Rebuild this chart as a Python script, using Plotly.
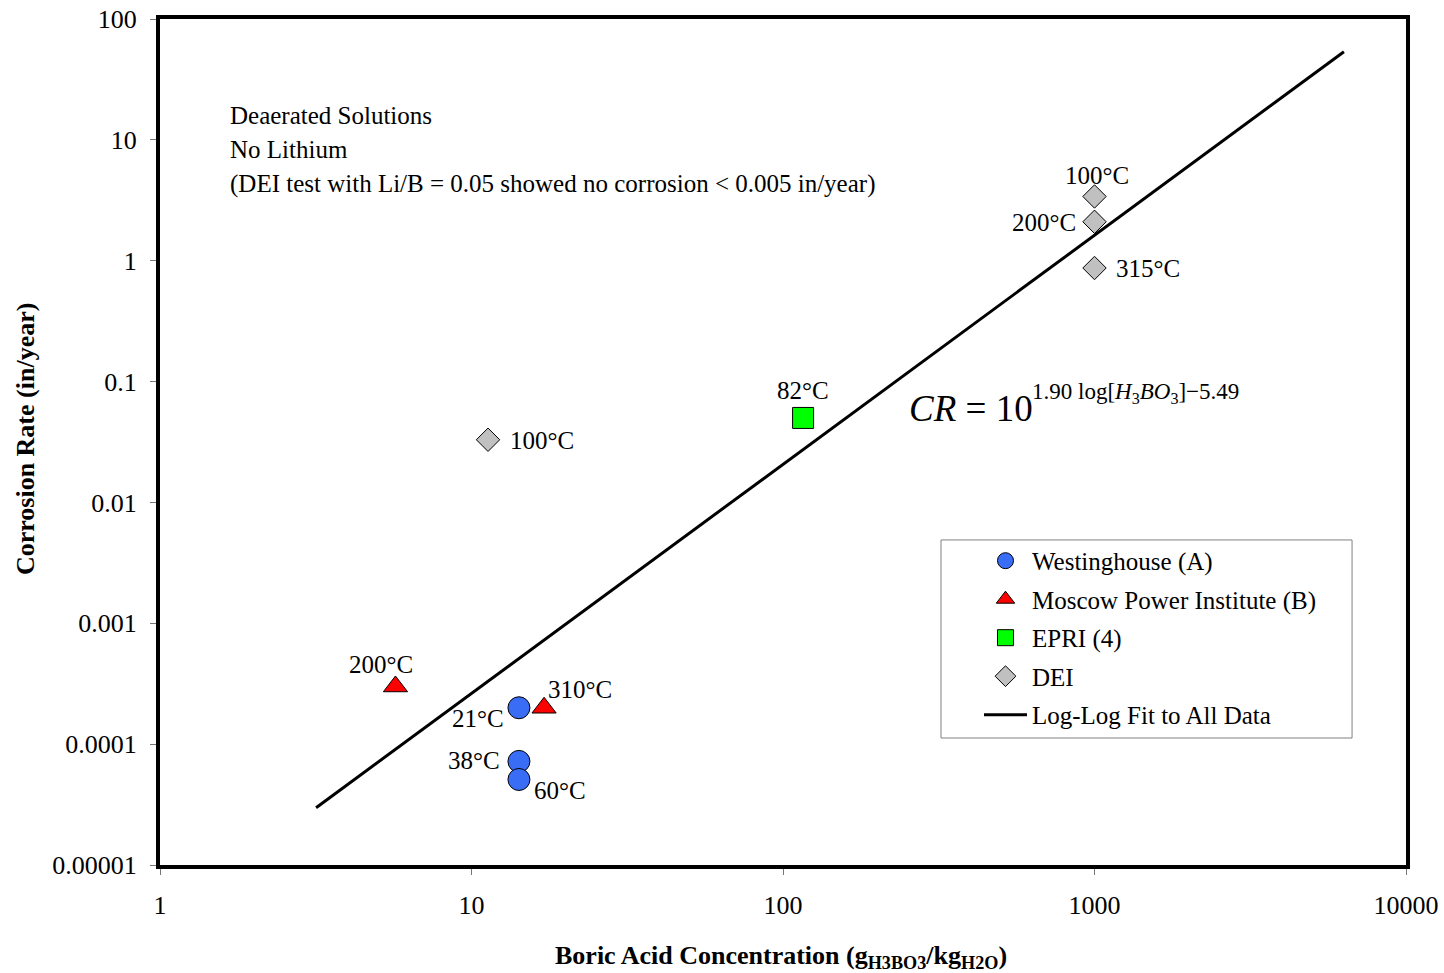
import math
import plotly.graph_objects as go

# ---- data ----
west_x = [14.2, 14.2, 14.2]
west_y = [2.0e-4, 7.2e-5, 5.1e-5]
west_lbl = ["21°C", "38°C", "60°C"]

mos_x = [5.7, 17.1]
mos_y = [3.0e-4, 2.0e-4]
mos_lbl = ["200°C", "310°C"]

epri_x = [116]
epri_y = [0.050]
epri_lbl = ["82°C"]

dei_x = [11.3, 1000, 1000, 1000]
dei_y = [0.033, 3.4, 2.1, 0.87]
dei_lbl = ["100°C", "100°C", "200°C", "315°C"]

fit_x = [3.17, 6320]
fit_y = [2.98e-5, 53.5]

x_ticks = [1, 10, 100, 1000, 10000]
x_tick_text = ["1", "10", "100", "1000", "10000"]
y_ticks = [1e-5, 1e-4, 1e-3, 1e-2, 1e-1, 1, 10, 100]
y_tick_text = ["0.00001", "0.0001", "0.001", "0.01", "0.1", "1", "10", "100"]

FONT = "Liberation Serif, Times New Roman, serif"
FS = 25

fig = go.Figure()

fig.add_trace(go.Scatter(x=west_x, y=west_y, mode="markers", name="Westinghouse (A)",
                         legendgroup="a",
                         marker=dict(symbol="circle", size=22, color="#3A6DF5",
                                     line=dict(color="black", width=1))))
fig.add_trace(go.Scatter(x=mos_x, y=mos_y, mode="markers", name="Moscow Power Institute (B)",
                         legendgroup="b",
                         marker=dict(symbol="triangle-up", size=21, color="#FF0000",
                                     line=dict(color="black", width=1))))
fig.add_trace(go.Scatter(x=epri_x, y=epri_y, mode="markers", name="EPRI (4)",
                         legendgroup="c",
                         marker=dict(symbol="square", size=21, color="#00FF00",
                                     line=dict(color="black", width=1))))
fig.add_trace(go.Scatter(x=dei_x, y=dei_y, mode="markers", name="DEI",
                         legendgroup="d",
                         marker=dict(symbol="diamond", size=18, color="#C0C0C0",
                                     line=dict(color="black", width=1))))
fig.add_trace(go.Scatter(x=fit_x, y=fit_y, mode="lines", name="Log-Log Fit to All Data",
                         legendgroup="e",
                         line=dict(color="black", width=3)))

# point labels: (x, y, text, xanchor, xshift, yshift)
labels = [
    (west_x[0], west_y[0], west_lbl[0], "right", -13, -11),
    (west_x[1], west_y[1], west_lbl[1], "right", -17, 1),
    (west_x[2], west_y[2], west_lbl[2], "left", 13, -11),
    (mos_x[0], mos_y[0], mos_lbl[0], "center", -14, 22),
    (mos_x[1], mos_y[1], mos_lbl[1], "left", 2, 18),
    (epri_x[0], epri_y[0], epri_lbl[0], "center", 0, 27),
    (dei_x[0], dei_y[0], dei_lbl[0], "left", 20, -1),
    (dei_x[1], dei_y[1], dei_lbl[1], "center", 2, 21),
    (dei_x[2], dei_y[2], dei_lbl[2], "right", -17, -1),
    (dei_x[3], dei_y[3], dei_lbl[3], "left", 19, 0),
]
for x, y, t, xa, xs, ys in labels:
    fig.add_annotation(x=math.log10(x), y=math.log10(y), xref="x", yref="y", text=t,
                       showarrow=False, xanchor=xa, yanchor="middle", xshift=xs, yshift=ys,
                       font=dict(family=FONT, size=FS, color="black"))

# note text block
notes = ["Deaerated Solutions", "No Lithium",
         "(DEI test with Li/B = 0.05 showed no corrosion < 0.005 in/year)"]
note_y = [0.8865, 0.8452, 0.805]
for t, yy in zip(notes, note_y):
    fig.add_annotation(x=0.0546, y=yy, xref="paper", yref="paper", text=t, showarrow=False,
                       xanchor="left", yanchor="middle",
                       font=dict(family=FONT, size=FS, color="black"))

# equation
fig.add_annotation(x=0.5996, y=0.540, xref="paper", yref="paper",
                   text="<i>CR</i> = 10", showarrow=False, xanchor="left", yanchor="middle",
                   font=dict(family=FONT, size=37, color="black"))
fig.add_annotation(x=0.6982, y=0.5579, xref="paper", yref="paper",
                   text="1.90 log[<i>H</i><sub>3</sub><i>BO</i><sub>3</sub>]\u22125.49",
                   showarrow=False, xanchor="left", yanchor="middle",
                   font=dict(family=FONT, size=23, color="black"))

# axis titles
fig.add_annotation(x=-0.1083, y=0.5035, xref="paper", yref="paper",
                   text="<b>Corrosion Rate (in/year)</b>", textangle=-90, showarrow=False,
                   xanchor="center", yanchor="middle",
                   font=dict(family=FONT, size=26, color="black"))
fig.add_annotation(x=0.4984, y=-0.1087, xref="paper", yref="paper",
                   text="<b>Boric Acid Concentration (g<sub>H3BO3</sub>/kg<sub>H2O</sub>)</b>",
                   showarrow=False, xanchor="center", yanchor="middle",
                   font=dict(family=FONT, size=26, color="black"))

# legend frame
fig.add_shape(type="rect", xref="paper", yref="paper",
              x0=0.6268, x1=0.9567, y0=0.1501, y1=0.3842,
              line=dict(color="#808080", width=1), fillcolor="white", layer="below")

fig.update_xaxes(type="log", range=[0, 4], tickvals=x_ticks, ticktext=x_tick_text,
                 showgrid=False, zeroline=False, showline=True, linecolor="black",
                 linewidth=4, mirror=True, ticks="outside", ticklen=6, tickcolor="#777",
                 tickwidth=1, ticklabelstandoff=8, automargin=False,
                 tickfont=dict(family=FONT, size=26, color="black"))
fig.update_yaxes(type="log", range=[-5, 2], tickvals=y_ticks, ticktext=y_tick_text,
                 showgrid=False, zeroline=False, showline=True, linecolor="black",
                 linewidth=4, mirror=True, ticks="outside", ticklen=6, tickcolor="#777",
                 tickwidth=1, ticklabelstandoff=8, automargin=False,
                 tickfont=dict(family=FONT, size=26, color="black"))

fig.update_layout(
    width=1444, height=973,
    margin=dict(l=160, r=38, t=19, b=108, autoexpand=False),
    paper_bgcolor="white", plot_bgcolor="white",
    font=dict(family=FONT, size=FS, color="black"),
    legend=dict(x=0.6573, y=0.3866, xanchor="left", yanchor="top",
                borderwidth=0, bgcolor="rgba(0,0,0,0)", itemwidth=43,
                tracegroupgap=3, font=dict(family=FONT, size=FS, color="black")),
)

fig.write_html("out.html")
